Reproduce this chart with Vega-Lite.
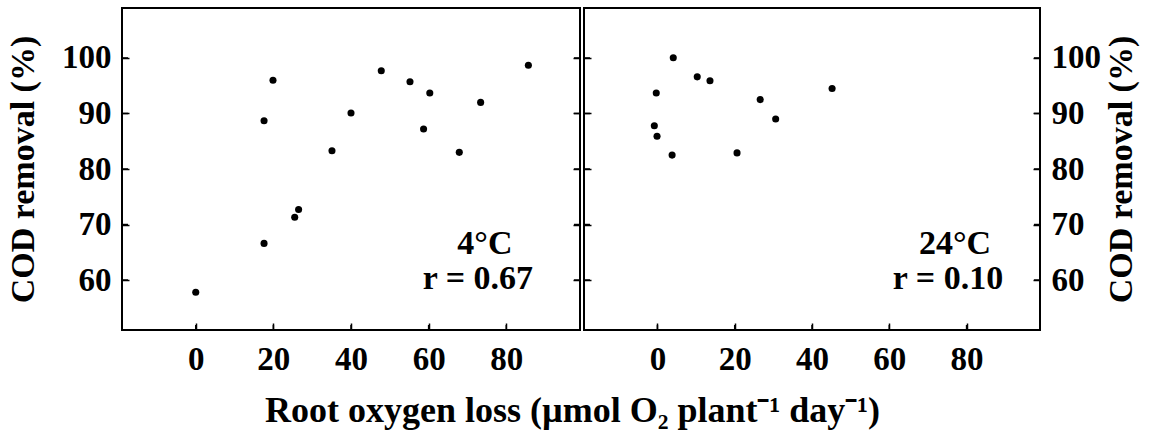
{
  "$schema": "https://vega.github.io/schema/vega-lite/v6.json",
  "background": "white",
  "padding": {"left": 5, "top": 7, "right": 5, "bottom": 5},
  "spacing": 0,
  "config": {
    "font": "Liberation Serif",
    "view": {"stroke": "black", "strokeWidth": 2},
    "axis": {
      "grid": false, "domain": false, "ticks": true,
      "tickColor": "black", "tickSize": 7, "tickWidth": 1.5, "offset": -7,
      "labelFont": "Liberation Serif", "labelFontWeight": "bold", "labelFontSize": 33, "labelColor": "black",
      "titleFont": "Liberation Serif", "titleFontWeight": "bold", "titleFontSize": 34, "titleColor": "black"
    }
  },
  "title": {
    "text": "Root oxygen loss (µmol O₂ plant⁻¹ day⁻¹)",
    "orient": "bottom", "anchor": "middle",
    "font": "Liberation Serif", "fontSize": 36, "fontWeight": "bold", "color": "black", "offset": 17
  },
  "datasets": {
    "cold": [
      {"rol": 0.0, "cod": 57.8},
      {"rol": 17.6, "cod": 88.7},
      {"rol": 19.9, "cod": 96.0},
      {"rol": 17.6, "cod": 66.6},
      {"rol": 25.5, "cod": 71.3},
      {"rol": 26.5, "cod": 72.7},
      {"rol": 35.1, "cod": 83.3},
      {"rol": 40.0, "cod": 90.1},
      {"rol": 47.8, "cod": 97.7},
      {"rol": 55.2, "cod": 95.7},
      {"rol": 60.3, "cod": 93.7},
      {"rol": 58.7, "cod": 87.2},
      {"rol": 67.9, "cod": 83.0},
      {"rol": 73.4, "cod": 92.0},
      {"rol": 85.7, "cod": 98.7}
    ],
    "warm": [
      {"rol": 4.1, "cod": 100.05},
      {"rol": 10.3, "cod": 96.6},
      {"rol": 13.6, "cod": 95.9},
      {"rol": -0.3, "cod": 93.7},
      {"rol": -0.8, "cod": 87.8},
      {"rol": -0.1, "cod": 85.9},
      {"rol": 3.8, "cod": 82.5},
      {"rol": 20.6, "cod": 82.9},
      {"rol": 26.6, "cod": 92.5},
      {"rol": 30.6, "cod": 89.0},
      {"rol": 45.2, "cod": 94.5}
    ],
    "cold_note": [
      {"label": "4°C", "x": 74.5, "y": 64.7},
      {"label": "r = 0.67", "x": 72.7, "y": 58.4}
    ],
    "warm_note": [
      {"label": "24°C", "x": 77.0, "y": 64.7},
      {"label": "r = 0.10", "x": 75.2, "y": 58.4}
    ],
    "yticks": [{"v": 60}, {"v": 70}, {"v": 80}, {"v": 90}, {"v": 100}],
    "xticks": [{"v": 0}, {"v": 20}, {"v": 40}, {"v": 60}, {"v": 80}]
  },
  "hconcat": [
    {
      "width": 458, "height": 322,
      "layer": [
        {
          "data": {"name": "cold"},
          "mark": {"type": "circle", "size": 50, "color": "black", "opacity": 1},
          "encoding": {
            "x": {"field": "rol", "type": "quantitative", "scale": {"domain": [-19, 99], "nice": false, "zero": false},
                  "axis": {"values": [0, 20, 40, 60, 80], "title": null, "labelPadding": 13}},
            "y": {"field": "cod", "type": "quantitative", "scale": {"domain": [51, 109], "nice": false, "zero": false},
                  "axis": {"orient": "left", "values": [60, 70, 80, 90, 100], "title": "COD removal (%)", "labelPadding": 11, "titlePadding": 21}}
          }
        },
        {
          "data": {"name": "yticks"},
          "mark": {"type": "rule", "color": "black", "strokeWidth": 1.5},
          "encoding": {
            "x": {"datum": -19, "type": "quantitative"},
            "x2": {"datum": -17.45},
            "y": {"field": "v", "type": "quantitative", "axis": null}
          }
        },
        {
          "data": {"name": "yticks"},
          "mark": {"type": "rule", "color": "black", "strokeWidth": 1.5},
          "encoding": {
            "x": {"datum": 99, "type": "quantitative"},
            "x2": {"datum": 97.45},
            "y": {"field": "v", "type": "quantitative", "axis": null}
          }
        },
        {
          "data": {"name": "xticks"},
          "mark": {"type": "rule", "color": "black", "strokeWidth": 1.5},
          "encoding": {
            "x": {"field": "v", "type": "quantitative"},
            "y": {"datum": 51, "type": "quantitative", "axis": null},
            "y2": {"datum": 51.9}
          }
        },
        {
          "data": {"name": "cold_note"},
          "mark": {"type": "text", "align": "center", "baseline": "alphabetic", "font": "Liberation Serif", "fontWeight": "bold", "fontSize": 34, "color": "black"},
          "encoding": {
            "x": {"field": "x", "type": "quantitative"},
            "y": {"field": "y", "type": "quantitative", "axis": {"orient": "right", "values": [60, 70, 80, 90, 100], "labels": false, "title": null, "minExtent": 0, "maxExtent": 0}},
            "text": {"field": "label"}
          }
        }
      ],
      "resolve": {"axis": {"y": "independent"}}
    },
    {
      "width": 456, "height": 322,
      "layer": [
        {
          "data": {"name": "warm"},
          "mark": {"type": "circle", "size": 50, "color": "black", "opacity": 1},
          "encoding": {
            "x": {"field": "rol", "type": "quantitative", "scale": {"domain": [-19, 99], "nice": false, "zero": false},
                  "axis": {"values": [0, 20, 40, 60, 80], "title": null, "labelPadding": 13}},
            "y": {"field": "cod", "type": "quantitative", "scale": {"domain": [51, 109], "nice": false, "zero": false},
                  "axis": {"orient": "left", "values": [60, 70, 80, 90, 100], "labels": false, "title": null, "minExtent": 0, "maxExtent": 0}}
          }
        },
        {
          "data": {"name": "yticks"},
          "mark": {"type": "rule", "color": "black", "strokeWidth": 1.5},
          "encoding": {
            "x": {"datum": -19, "type": "quantitative"},
            "x2": {"datum": -17.45},
            "y": {"field": "v", "type": "quantitative", "axis": null}
          }
        },
        {
          "data": {"name": "yticks"},
          "mark": {"type": "rule", "color": "black", "strokeWidth": 1.5},
          "encoding": {
            "x": {"datum": 99, "type": "quantitative"},
            "x2": {"datum": 97.45},
            "y": {"field": "v", "type": "quantitative", "axis": null}
          }
        },
        {
          "data": {"name": "xticks"},
          "mark": {"type": "rule", "color": "black", "strokeWidth": 1.5},
          "encoding": {
            "x": {"field": "v", "type": "quantitative"},
            "y": {"datum": 51, "type": "quantitative", "axis": null},
            "y2": {"datum": 51.9}
          }
        },
        {
          "data": {"name": "warm_note"},
          "mark": {"type": "text", "align": "center", "baseline": "alphabetic", "font": "Liberation Serif", "fontWeight": "bold", "fontSize": 34, "color": "black"},
          "encoding": {
            "x": {"field": "x", "type": "quantitative"},
            "y": {"field": "y", "type": "quantitative", "axis": {"orient": "right", "values": [60, 70, 80, 90, 100], "title": "COD removal (%)", "titleAngle": 270, "titleBaseline": "top", "labelPadding": 11, "titlePadding": 4}},
            "text": {"field": "label"}
          }
        }
      ],
      "resolve": {"axis": {"y": "independent"}}
    }
  ]
}
